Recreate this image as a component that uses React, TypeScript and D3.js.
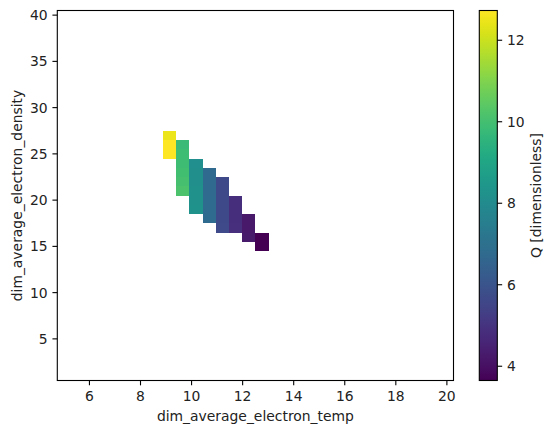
import React from "react";
import * as d3 from "d3";

// grid extent (cell edges) of the temperature / density mesh
const tempExtent = [4.741, 20.259];
const densityExtent = [0.5, 40.5];
const tempStep = 0.5172;
const densityStep = 1;

// non-empty cells: temperature, density, Q
const cellTemp = [
  9.138, 9.138, 9.138,
  9.655, 9.655, 9.655, 9.655, 9.655, 9.655,
  10.172, 10.172, 10.172, 10.172, 10.172, 10.172,
  10.69, 10.69, 10.69, 10.69, 10.69, 10.69,
  11.207, 11.207, 11.207, 11.207, 11.207, 11.207,
  11.724, 11.724, 11.724, 11.724,
  12.241, 12.241, 12.241,
  12.759, 12.759,
];
const cellDensity = [
  25, 26, 27,
  21, 22, 23, 24, 25, 26,
  19, 20, 21, 22, 23, 24,
  18, 19, 20, 21, 22, 23,
  17, 18, 19, 20, 21, 22,
  17, 18, 19, 20,
  16, 17, 18,
  15, 16,
];
const cellQ = [
  12.73, 12.72, 12.45,
  10.15, 10.05, 9.98, 9.92, 9.86, 9.8,
  8.24, 8.22, 8.2, 8.18, 8.16, 8.14,
  6.8, 6.79, 6.78, 6.77, 6.76, 6.75,
  5.68, 5.67, 5.66, 5.66, 5.65, 5.64,
  4.86, 4.85, 4.84, 4.83,
  4.26, 4.25, 4.24,
  3.65, 3.66,
];

const xTicks = [6, 8, 10, 12, 14, 16, 18, 20];
const yTicks = [5, 10, 15, 20, 25, 30, 35, 40];
const cbTicks = [4, 6, 8, 10, 12];
const qRange = [3.65, 12.73];

const xLabel = "dim_average_electron_temp";
const yLabel = "dim_average_electron_density";
const cbLabel = "Q [dimensionless]";

export default function App() {
  const W = 554, H = 433;
  const L = 57.3, R = 453.5, T = 10.5, B = 380.5;
  const cbL = 479.3, cbR = 497.3;
  const font = "DejaVu Sans, sans-serif";
  const fs = 13.9;
  const tickLen = 4.86, pad = 4.86;

  const x = d3.scaleLinear().domain(tempExtent).range([L, R]);
  const y = d3.scaleLinear().domain(densityExtent).range([B, T]);
  const cb = d3.scaleLinear().domain(qRange).range([B, T]);
  const color = d3.scaleSequential(d3.interpolateViridis).domain(qRange);

  const stops = d3.range(0, 1.0001, 0.02);

  return (
    <svg width={W} height={H} style={{ position: "absolute", left: 0, top: 0, background: "white" }}>
      <defs>
        <linearGradient id="cbgrad" x1="0" y1="1" x2="0" y2="0">
          {stops.map((t) => (
            <stop key={t} offset={t} stopColor={d3.interpolateViridis(t)} />
          ))}
        </linearGradient>
      </defs>
      <rect x={0} y={0} width={W} height={H} fill="white" />
      {/* cells */}
      <g shapeRendering="crispEdges">
        {cellQ.map((q, i) => {
          const x0 = x(cellTemp[i] - tempStep / 2);
          const x1 = x(cellTemp[i] + tempStep / 2);
          const y0 = y(cellDensity[i] + densityStep / 2);
          const y1 = y(cellDensity[i] - densityStep / 2);
          return <rect key={i} x={x0} y={y0} width={x1 - x0} height={y1 - y0} fill={color(q)} />;
        })}
      </g>
      {/* frame */}
      <rect x={L} y={T} width={R - L} height={B - T} fill="none" stroke="black" strokeWidth={1.1} />
      {/* x ticks */}
      {xTicks.map((t) => (
        <g key={"x" + t}>
          <line x1={x(t)} x2={x(t)} y1={B} y2={B + tickLen} stroke="black" strokeWidth={1.1} />
          <text x={x(t)} y={B + tickLen + pad + 10.3} textAnchor="middle" fontFamily={font} fontSize={fs} fill="#222">
            {t}
          </text>
        </g>
      ))}
      {/* y ticks */}
      {yTicks.map((t) => (
        <g key={"y" + t}>
          <line x1={L - tickLen} x2={L} y1={y(t)} y2={y(t)} stroke="black" strokeWidth={1.1} />
          <text x={L - tickLen - pad} y={y(t)} dy="0.36em" textAnchor="end" fontFamily={font} fontSize={fs} fill="#222">
            {t}
          </text>
        </g>
      ))}
      <text x={(L + R) / 2} y={421} textAnchor="middle" fontFamily={font} fontSize={fs} fill="#222">
        {xLabel}
      </text>
      <text transform={`translate(22.3, ${(T + B) / 2}) rotate(-90)`} textAnchor="middle" fontFamily={font} fontSize={fs} fill="#222">
        {yLabel}
      </text>
      {/* colorbar */}
      <rect x={cbL} y={T} width={cbR - cbL} height={B - T} fill="url(#cbgrad)" stroke="black" strokeWidth={1.1} />
      {cbTicks.map((t) => (
        <g key={"c" + t}>
          <line x1={cbR} x2={cbR + tickLen} y1={cb(t)} y2={cb(t)} stroke="black" strokeWidth={1.1} />
          <text x={cbR + tickLen + pad} y={cb(t)} dy="0.36em" textAnchor="start" fontFamily={font} fontSize={fs} fill="#222">
            {t}
          </text>
        </g>
      ))}
      <text transform={`translate(540.5, ${(T + B) / 2}) rotate(-90)`} textAnchor="middle" fontFamily={font} fontSize={fs} fill="#222">
        {cbLabel}
      </text>
    </svg>
  );
}
